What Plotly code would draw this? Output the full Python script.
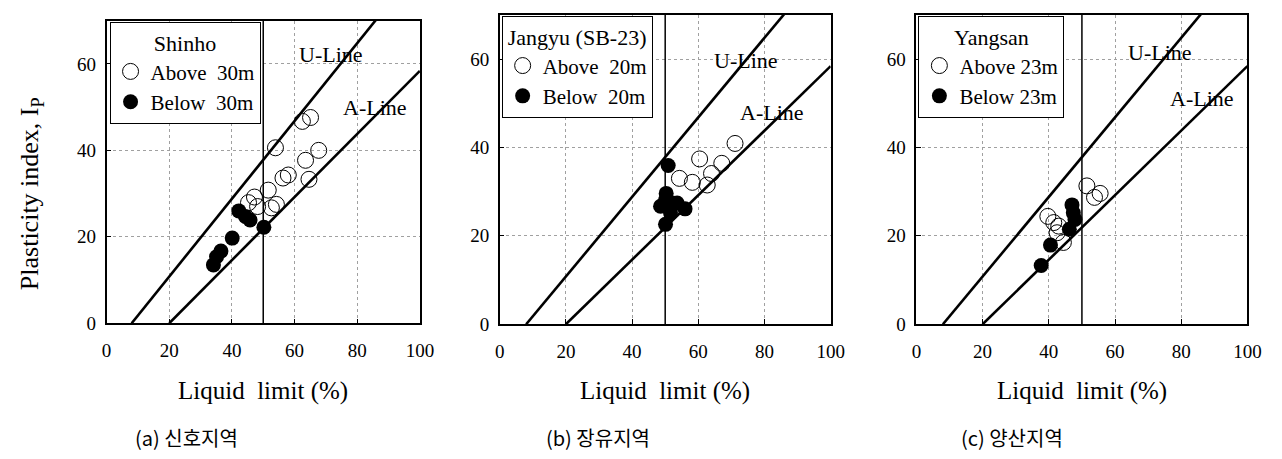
import plotly.graph_objects as go

# ---------------- data ----------------
site_names = ["Shinho", "Jangyu (SB-23)", "Yangsan"]
above_labels = ["Above\u00a0 30m", "Above\u00a0 20m", "Above 23m"]
below_labels = ["Below\u00a0 30m", "Below\u00a0 20m", "Below 23m"]
captions = ["(a) 신호지역", "(b) 장유지역", "(c) 양산지역"]

shinho_above_ll = [65.1, 62.5, 53.9, 67.7, 63.5, 58.0, 56.3, 64.6, 51.6, 47.2, 45.3, 54.2, 52.6, 48.2]
shinho_above_pi = [47.6, 46.7, 40.6, 40.0, 37.7, 34.3, 33.6, 33.3, 30.8, 29.2, 27.9, 27.5, 26.7, 27.0]
shinho_below_ll = [42.2, 44.3, 45.8, 50.2, 40.1, 36.5, 35.1, 34.1]
shinho_below_pi = [26.0, 24.7, 23.9, 22.2, 19.7, 16.7, 15.4, 13.5]

jangyu_above_ll = [71.1, 60.4, 67.1, 64.0, 54.3, 58.2, 62.7]
jangyu_above_pi = [40.9, 37.4, 36.4, 34.1, 33.0, 32.1, 31.5]
jangyu_below_ll = [50.9, 50.3, 48.6, 51.6, 56.0, 53.6, 50.1, 52.1, 50.1]
jangyu_below_pi = [35.9, 29.6, 26.7, 25.2, 26.1, 27.4, 22.6, 27.4, 28.1]

yangsan_above_ll = [51.5, 55.5, 53.8, 39.7, 41.5, 43.0, 44.4, 42.5]
yangsan_above_pi = [31.3, 29.6, 28.7, 24.4, 23.0, 22.2, 18.5, 20.7]
yangsan_below_ll = [47.0, 47.4, 47.9, 46.2, 40.5, 37.7]
yangsan_below_pi = [27.0, 25.2, 23.7, 21.5, 17.9, 13.3]

# Casagrande chart reference lines (end points)
u_line_ll = [8, 100]
u_line_pi = [0, 82.8]
a_line_ll = [20, 100]
a_line_pi = [0, 58.4]
ll_divide = 50

x_ticks = [0, 20, 40, 60, 80, 100]
y_ticks = [0, 20, 40, 60]
x_title = "Liquid\u00a0 limit (%)"
y_title = "Plasticity index, I<sub>P</sub>"

above_ll = [shinho_above_ll, jangyu_above_ll, yangsan_above_ll]
above_pi = [shinho_above_pi, jangyu_above_pi, yangsan_above_pi]
below_ll = [shinho_below_ll, jangyu_below_ll, yangsan_below_ll]
below_pi = [shinho_below_pi, jangyu_below_pi, yangsan_below_pi]

# ---------------- layout geometry ----------------
W, H = 1282, 459
SERIF = "Liberation Serif"
KOR = "Noto Sans CJK KR"

x_px = [(95, 413), (494, 830), (917, 1253)]
y_px = [(13, 323), (7, 324), (7, 324)]
legend_px = [(98, 14), (496, 8), (919, 8)]
uline_lbl = [(71.6, 62.1), (74.3, 59.7), (73.7, 61.5)]
aline_lbl = [(85.8, 49.8), (82.4, 47.8), (86.3, 51.1)]
caption_px = [176, 594, 1014]

def fx(p):
    return p / W

def fy(p):
    return (H - p) / H

fig = go.Figure()

for i in range(3):
    xa = "x" if i == 0 else f"x{i+1}"
    ya = "y" if i == 0 else f"y{i+1}"
    lg = "legend" if i == 0 else f"legend{i+1}"
    fig.add_trace(go.Scatter(x=u_line_ll, y=u_line_pi, mode="lines",
                             line=dict(color="black", width=2.6),
                             xaxis=xa, yaxis=ya, showlegend=False, hoverinfo="skip"))
    fig.add_trace(go.Scatter(x=a_line_ll, y=a_line_pi, mode="lines",
                             line=dict(color="black", width=2.6),
                             xaxis=xa, yaxis=ya, showlegend=False, hoverinfo="skip"))
    fig.add_trace(go.Scatter(x=above_ll[i], y=above_pi[i], mode="markers",
                             name=above_labels[i], legend=lg,
                             marker=dict(symbol="circle-open", size=16, color="black",
                                         line=dict(width=1)),
                             xaxis=xa, yaxis=ya))
    fig.add_trace(go.Scatter(x=below_ll[i], y=below_pi[i], mode="markers",
                             name=below_labels[i], legend=lg,
                             marker=dict(symbol="circle", size=15, color="black"),
                             xaxis=xa, yaxis=ya))

    axis_common = dict(showline=True, linecolor="black", linewidth=1.5, mirror=True,
                       ticks="inside", ticklen=5, tickcolor="black", zeroline=False,
                       showgrid=True, gridcolor="#a0a0a0", griddash="dot", gridwidth=1,
                       tickfont=dict(family=SERIF, size=19, color="black"))
    fig.update_layout(**{
        ("xaxis" if i == 0 else f"xaxis{i+1}"): dict(
            domain=[fx(x_px[i][0]), fx(x_px[i][1])], range=[0, 100],
            tickvals=x_ticks, anchor=ya, ticklabelstandoff=9, **axis_common),
        ("yaxis" if i == 0 else f"yaxis{i+1}"): dict(
            domain=[fy(y_px[i][1]), fy(y_px[i][0])], range=[0, 70],
            tickvals=y_ticks, anchor=xa, ticklabelstandoff=5, **axis_common),
        lg: dict(x=fx(legend_px[i][0]), y=fy(legend_px[i][1]), xanchor="left", yanchor="top",
                 xref="paper", yref="paper",
                 bgcolor="white", bordercolor="black", borderwidth=1,
                 font=dict(family=SERIF, size=21, color="black"),
                 title=dict(text=site_names[i], side="top center",
                            font=dict(family=SERIF, size=22, color="black")),
                 tracegroupgap=0, itemsizing="trace"),
    })

    fig.add_shape(type="line", xref=xa, yref=ya, x0=ll_divide, x1=ll_divide, y0=0, y1=70,
                  line=dict(color="black", width=1.5))
    fig.add_annotation(xref=xa, yref=ya, x=uline_lbl[i][0], y=uline_lbl[i][1], text="U-Line",
                       showarrow=False, font=dict(family=SERIF, size=22, color="black"))
    fig.add_annotation(xref=xa, yref=ya, x=aline_lbl[i][0], y=aline_lbl[i][1], text="A-Line",
                       showarrow=False, font=dict(family=SERIF, size=22, color="black"))
    fig.add_annotation(xref="paper", yref="paper", x=fx((x_px[i][0] + x_px[i][1]) / 2), y=fy(392),
                       text=x_title, showarrow=False, xanchor="center", yanchor="middle",
                       font=dict(family=SERIF, size=25, color="black"))
    fig.add_annotation(xref="paper", yref="paper", x=fx(caption_px[i]), y=fy(440),
                       text=captions[i], showarrow=False, xanchor="center", yanchor="middle",
                       font=dict(family=KOR, size=20, color="black"))

fig.add_annotation(xref="paper", yref="paper", x=fx(19), y=fy(190), text=y_title,
                   textangle=-90, showarrow=False, xanchor="center", yanchor="middle",
                   font=dict(family=SERIF, size=26, color="black"))

fig.update_layout(width=W, height=H, margin=dict(l=0, r=0, t=0, b=0),
                  font=dict(family=SERIF, color="black"),
                  paper_bgcolor="white", plot_bgcolor="white", showlegend=True)

fig.write_html("out.html")
